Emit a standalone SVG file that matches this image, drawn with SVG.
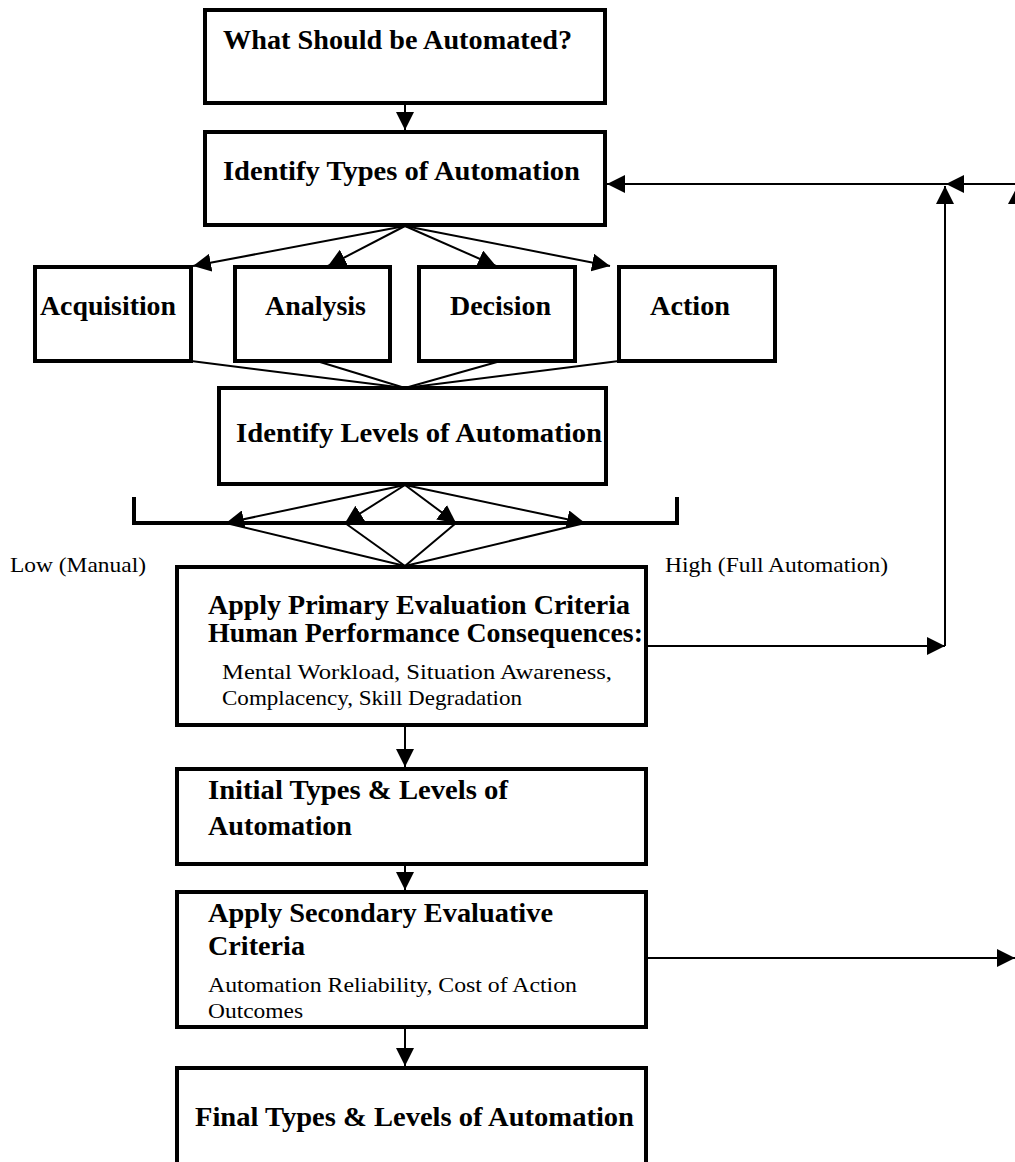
<svg xmlns="http://www.w3.org/2000/svg" width="1015" height="1162" viewBox="0 0 1015 1162">
  <style>
    .box { fill: #ffffff; stroke: #000000; stroke-width: 4; }
    .conn { fill: none; stroke: #000000; stroke-width: 2; }
    .bracket { fill: none; stroke: #000000; stroke-width: 4; }
    .title { font-family: "Liberation Serif", "Times New Roman", serif; font-weight: bold; font-size: 28px; fill: #000000; }
    .body { font-family: "Liberation Serif", "Times New Roman", serif; font-size: 22px; fill: #000000; }
  </style>
  <defs>
    <marker id="head" markerUnits="userSpaceOnUse" markerWidth="18" markerHeight="18" viewBox="0 0 18 18" refX="18" refY="9" orient="auto">
      <path d="M0,0 L18,9 L0,18 Z" fill="#000000"/>
    </marker>
  </defs>

  <rect width="1015" height="1162" fill="#ffffff"/>

  <!-- connectors -->
  <g id="connectors">
    <line class="conn" x1="405" y1="103" x2="405" y2="130" marker-end="url(#head)"/>
    <!-- fan out to the four automation types -->
    <line class="conn" x1="405" y1="226" x2="193" y2="266" marker-end="url(#head)"/>
    <line class="conn" x1="405" y1="226" x2="328" y2="266" marker-end="url(#head)"/>
    <line class="conn" x1="405" y1="226" x2="496" y2="266" marker-end="url(#head)"/>
    <line class="conn" x1="405" y1="226" x2="610" y2="266" marker-end="url(#head)"/>
    <!-- types merge into level selection -->
    <line class="conn" x1="191" y1="361" x2="405" y2="388"/>
    <line class="conn" x1="320" y1="362" x2="405" y2="388"/>
    <line class="conn" x1="497" y1="362" x2="405" y2="388"/>
    <line class="conn" x1="619" y1="361" x2="405" y2="388"/>
    <!-- levels scale -->
    <path class="bracket" d="M134,497 V523 H677 V497"/>
    <line class="conn" x1="405" y1="485" x2="226" y2="523" marker-end="url(#head)"/>
    <line class="conn" x1="405" y1="485" x2="345" y2="523" marker-end="url(#head)"/>
    <line class="conn" x1="405" y1="485" x2="456" y2="523" marker-end="url(#head)"/>
    <line class="conn" x1="405" y1="485" x2="585" y2="523" marker-end="url(#head)"/>
    <line class="conn" x1="226" y1="523" x2="405" y2="566"/>
    <line class="conn" x1="345" y1="523" x2="405" y2="566"/>
    <line class="conn" x1="456" y1="523" x2="405" y2="566"/>
    <line class="conn" x1="585" y1="523" x2="405" y2="566"/>
    <!-- feedback loop from primary criteria -->
    <line class="conn" x1="647" y1="646" x2="945" y2="646" marker-end="url(#head)"/>
    <line class="conn" x1="945" y1="646" x2="945" y2="186" marker-end="url(#head)"/>
    <line class="conn" x1="1015" y1="184" x2="946" y2="184" marker-end="url(#head)"/>
    <line class="conn" x1="946" y1="184" x2="607" y2="184" marker-end="url(#head)"/>
    <polygon points="1008,204 1017,187 1026,204" fill="#000000"/>
    <!-- main column downwards -->
    <line class="conn" x1="405" y1="725" x2="405" y2="767" marker-end="url(#head)"/>
    <line class="conn" x1="405" y1="864" x2="405" y2="890" marker-end="url(#head)"/>
    <line class="conn" x1="405" y1="1027" x2="405" y2="1066" marker-end="url(#head)"/>
    <!-- feedback from secondary criteria -->
    <line class="conn" x1="647" y1="958" x2="1015" y2="958" marker-end="url(#head)"/>
  </g>

  <g id="what-automated">
    <rect class="box" x="205" y="10" width="400" height="93"/>
    <text class="title" x="223" y="49" textLength="349" lengthAdjust="spacingAndGlyphs">What Should be Automated?</text>
  </g>

  <g id="identify-types">
    <rect class="box" x="205" y="132" width="400" height="93"/>
    <text class="title" x="223" y="180" textLength="357" lengthAdjust="spacingAndGlyphs">Identify Types of Automation</text>
  </g>

  <g id="acquisition">
    <rect class="box" x="35" y="267" width="156" height="94"/>
    <text class="title" x="40" y="315" textLength="136" lengthAdjust="spacingAndGlyphs">Acquisition</text>
  </g>
  <g id="analysis">
    <rect class="box" x="235" y="267" width="155" height="94"/>
    <text class="title" x="265" y="315" textLength="101" lengthAdjust="spacingAndGlyphs">Analysis</text>
  </g>
  <g id="decision">
    <rect class="box" x="419" y="267" width="156" height="94"/>
    <text class="title" x="450" y="315" textLength="101" lengthAdjust="spacingAndGlyphs">Decision</text>
  </g>
  <g id="action">
    <rect class="box" x="619" y="267" width="156" height="94"/>
    <text class="title" x="650" y="315" textLength="80" lengthAdjust="spacingAndGlyphs">Action</text>
  </g>

  <g id="identify-levels">
    <rect class="box" x="219" y="388" width="387" height="96"/>
    <text class="title" x="236" y="442" textLength="366" lengthAdjust="spacingAndGlyphs">Identify Levels of Automation</text>
  </g>

  <g id="scale-labels">
    <text class="body" x="10" y="572" textLength="136" lengthAdjust="spacingAndGlyphs">Low (Manual)</text>
    <text class="body" x="665" y="572" textLength="223" lengthAdjust="spacingAndGlyphs">High (Full Automation)</text>
  </g>

  <g id="primary-criteria">
    <rect class="box" x="177" y="567" width="469" height="158"/>
    <text class="title" x="208" y="614" textLength="422" lengthAdjust="spacingAndGlyphs">Apply Primary Evaluation Criteria</text>
    <text class="title" x="208" y="642" textLength="435" lengthAdjust="spacingAndGlyphs">Human Performance Consequences:</text>
    <text class="body" x="222" y="679" textLength="390" lengthAdjust="spacingAndGlyphs">Mental Workload, Situation Awareness,</text>
    <text class="body" x="222" y="705" textLength="300" lengthAdjust="spacingAndGlyphs">Complacency, Skill Degradation</text>
  </g>

  <g id="initial-types-levels">
    <rect class="box" x="177" y="769" width="469" height="95"/>
    <text class="title" x="208" y="799" textLength="300" lengthAdjust="spacingAndGlyphs">Initial Types &amp; Levels of</text>
    <text class="title" x="208" y="835" textLength="144" lengthAdjust="spacingAndGlyphs">Automation</text>
  </g>

  <g id="secondary-criteria">
    <rect class="box" x="177" y="892" width="469" height="135"/>
    <text class="title" x="208" y="922" textLength="345" lengthAdjust="spacingAndGlyphs">Apply Secondary Evaluative</text>
    <text class="title" x="208" y="955" textLength="97" lengthAdjust="spacingAndGlyphs">Criteria</text>
    <text class="body" x="208" y="992" textLength="369" lengthAdjust="spacingAndGlyphs">Automation Reliability, Cost of Action</text>
    <text class="body" x="208" y="1018" textLength="95" lengthAdjust="spacingAndGlyphs">Outcomes</text>
  </g>

  <g id="final-types-levels">
    <rect class="box" x="177" y="1068" width="469" height="100"/>
    <text class="title" x="195" y="1126" textLength="439" lengthAdjust="spacingAndGlyphs">Final Types &amp; Levels of Automation</text>
  </g>
</svg>
